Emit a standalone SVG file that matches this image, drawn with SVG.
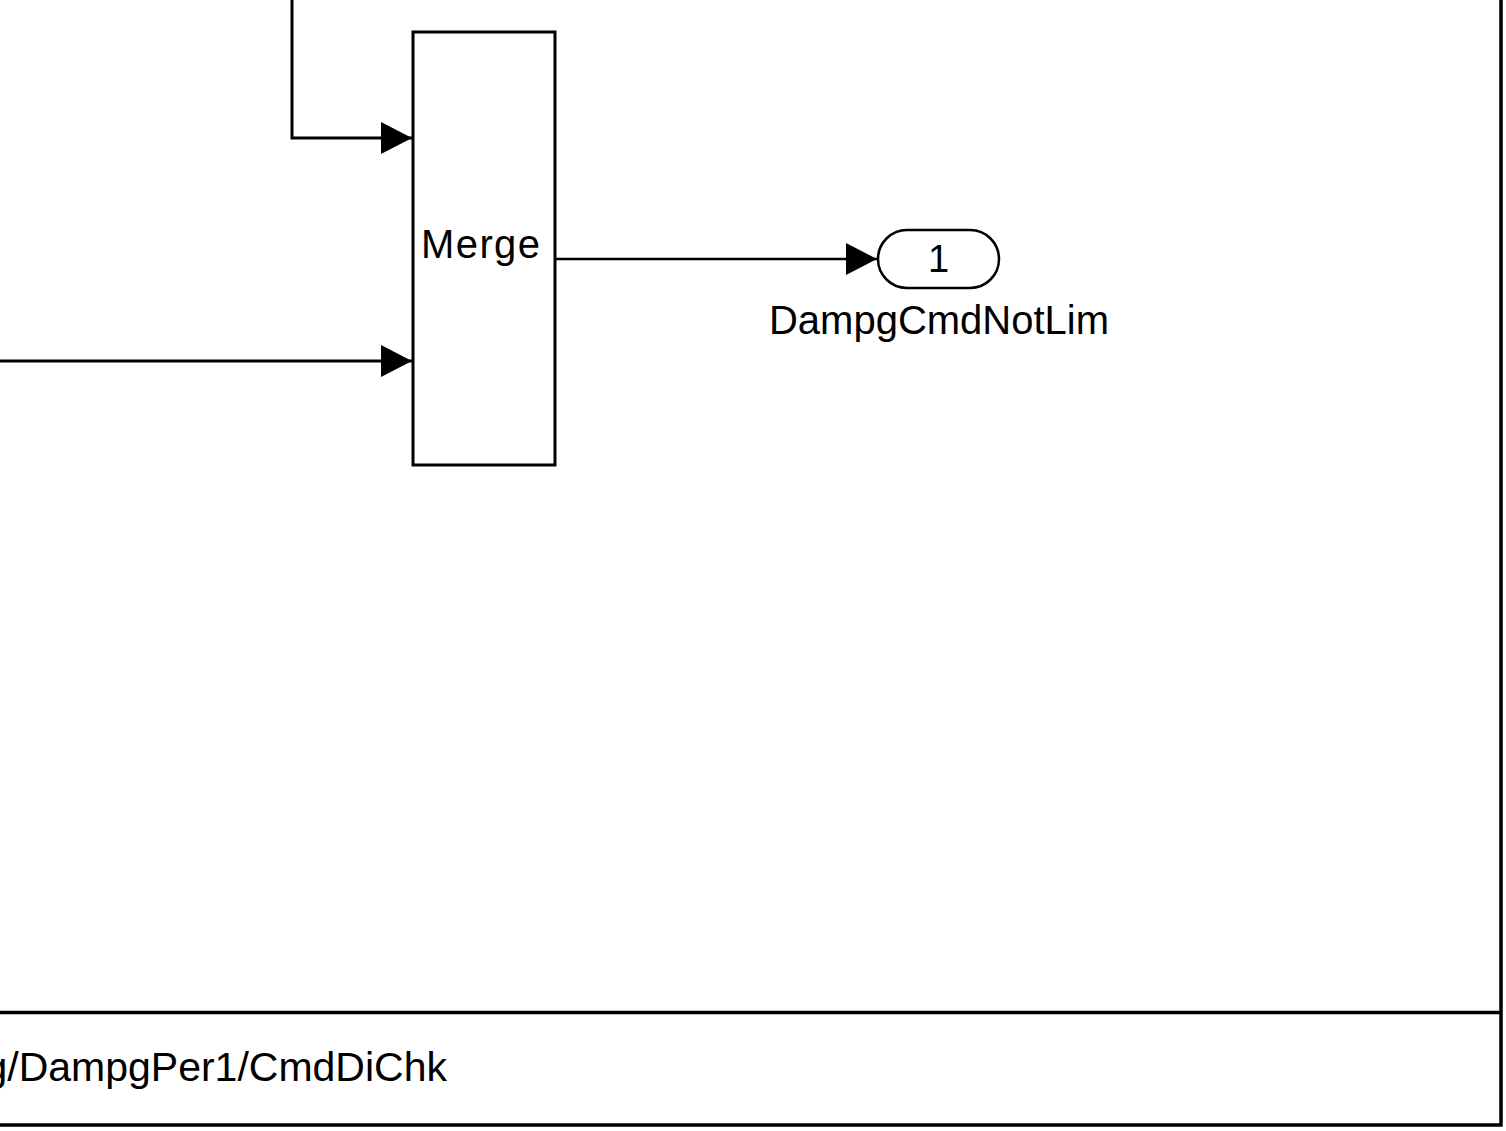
<svg xmlns="http://www.w3.org/2000/svg" width="1506" height="1131" viewBox="0 0 1506 1131">
<style>
.ln{fill:none;stroke:#000;stroke-width:3}
.blk{fill:#fff;stroke:#000;stroke-width:3}
.t{font-family:"Liberation Sans",Arial,sans-serif;fill:#000}
</style>
<defs>
<marker id="arr" markerUnits="userSpaceOnUse" markerWidth="32" markerHeight="32" refX="31" refY="16" orient="auto">
<path d="M0,0 L31,16 L0,32 Z" fill="#000"/>
</marker>
</defs>
<rect width="1506" height="1131" fill="#fff"/>
<g id="frame">
<path class="ln" d="M1501,0 V1125 H0" style="stroke-width:3.5"/>
<path class="ln" d="M0,1012.5 H1501" style="stroke-width:3.5"/>
<text class="t" x="447" y="1081" font-size="41" text-anchor="end">g/DampgPer1/CmdDiChk</text>
</g>
<g id="connectors">
<path class="ln" d="M292,0 V138 H412" marker-end="url(#arr)"/>
<path class="ln" d="M0,361 H412" marker-end="url(#arr)"/>
<path class="ln" d="M555,259 H877" marker-end="url(#arr)" style="stroke-width:2.5"/>
</g>
<g id="merge">
<rect class="blk" x="413" y="32" width="142" height="433"/>
<text class="t" x="421" y="258" font-size="40" textLength="119" lengthAdjust="spacing">Merge</text>
</g>
<g id="outport">
<rect class="blk" x="878" y="230" width="121" height="58" rx="29" style="stroke-width:2.5"/>
<text class="t" x="938.5" y="272" font-size="38" text-anchor="middle">1</text>
<text class="t" x="939" y="334" font-size="40" text-anchor="middle">DampgCmdNotLim</text>
</g>
</svg>
